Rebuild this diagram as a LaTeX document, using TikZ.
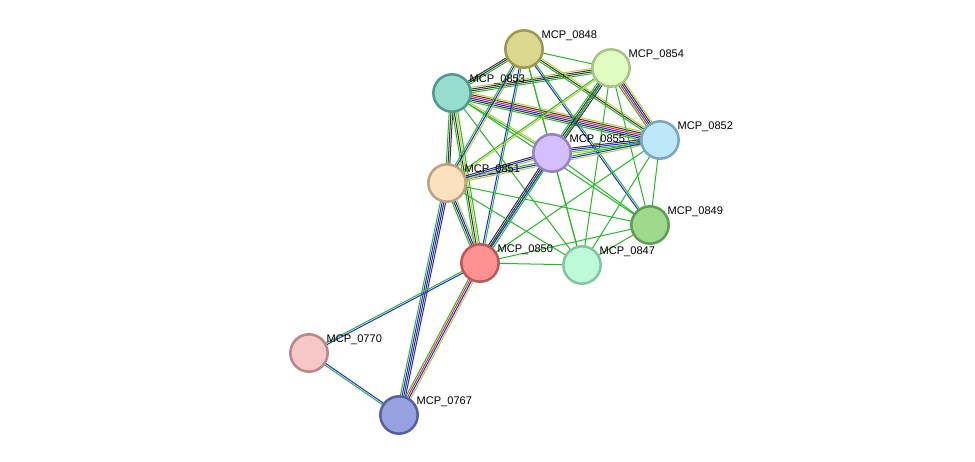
\documentclass[tikz,border=0pt]{standalone}
\usepackage{fontspec}
\setmainfont{Liberation Sans}
\usetikzlibrary{calc}
\definecolor{eg}{HTML}{22BB22}
\definecolor{ek}{HTML}{333333}
\definecolor{eb}{HTML}{2222EE}
\definecolor{er}{HTML}{EE2222}
\definecolor{ey}{HTML}{BBCC33}
\begin{document}
\begin{tikzpicture}[%
x=0.75pt, y=-0.75pt,
prot/.style={circle, minimum size=28pt, inner sep=0pt, line width=1.9pt},
lab/.style={anchor=south west, inner sep=1pt, font=\fontsize{8.3}{9}\selectfont},
link/.style={line width=0.75pt},
]
\useasboundingbox (0,0) rectangle (975,461);

% positions
\coordinate (p0848) at (524,49);
\coordinate (p0854) at (611,68);
\coordinate (p0853) at (452,93);
\coordinate (p0852) at (660,140);
\coordinate (p0855) at (552,153);
\coordinate (p0851) at (447,183);
\coordinate (p0849) at (650,225);
\coordinate (p0850) at (480,263);
\coordinate (p0847) at (582,265);
\coordinate (p0770) at (309,353);
\coordinate (p0767) at (399,415);

% links
\foreach \a/\b/\n/\cs in {%
0853/0848/3/{eg,ek,ek}, 0853/0854/4/{eg,ek,ek,ey}, 0853/0852/6/{eg,ek,eb,er,ek,ey},
0853/0855/2/{eg,ey}, 0853/0851/3/{eg,ek,ek}, 0853/0850/4/{eg,ek,ey,eg},
0853/0847/1/{eg}, 0853/0849/1/{eg}, 0848/0854/1/{eg}, 0848/0852/3/{eg,ek,ey},
0848/0855/1/{eg}, 0848/0851/3/{eg,eb,ey}, 0848/0850/2/{eb,eg}, 0848/0849/2/{eb,eg},
0848/0847/1/{eg}, 0854/0852/5/{eg,er,eb,ek,ey}, 0854/0855/4/{eg,ek,eb,ek},
0854/0851/2/{eg,ey}, 0854/0850/1/{eg}, 0854/0849/1/{eg}, 0854/0847/1/{eg},
0852/0855/4/{ek,eb,eg,ey}, 0852/0851/3/{eg,eb,ey}, 0852/0849/1/{eg},
0852/0847/1/{eg}, 0852/0850/1/{eg}, 0855/0851/3/{ek,eb,ey}, 0855/0850/4/{ek,ek,eb,eg},
0855/0847/1/{eg}, 0855/0849/1/{eg}, 0851/0850/4/{eg,ek,eb,ey}, 0851/0849/1/{eg},
0851/0847/1/{eg}, 0851/0767/4/{eg,eb,ek,eb}, 0850/0847/1/{eg}, 0850/0849/1/{eg},
0850/0770/2/{eg,eb}, 0850/0767/4/{eg,er,eb,ey}, 0770/0767/2/{eg,eb}, 0849/0847/1/{eg}}
{
  \foreach \c [count=\i] in \cs {
    \pgfmathsetmacro{\off}{(\i-(\n+1)/2)*1.3}
    \draw[link, \c] ($(p\a)!\off pt!90:(p\b)$) -- ($(p\b)!\off pt!-90:(p\a)$);
  }
}

% proteins
\foreach \p/\f/\d in {0848/DCD88F/9C9A50, 0854/E0FCC0/A8C486, 0853/96DCCF/4F998F,
  0852/BDE7FA/7AA6C2, 0855/D3BFFC/9583C4, 0851/FDE0BD/BCA283, 0849/9ED98C/5F9E55,
  0850/FD9292/BF5757, 0847/BDFBD8/82C6A0, 0770/F8C6C6/B88888, 0767/98A1E0/5560A0}
{
  \definecolor{fc}{HTML}{\f}\definecolor{dc}{HTML}{\d}
  \node[prot, fill=fc, draw=dc] (n\p) at (p\p) {};
  \node[lab] (l\p) at ([xshift=12pt, yshift=5pt]n\p.center) {MCP\_\p};
}

\end{tikzpicture}
\end{document}
